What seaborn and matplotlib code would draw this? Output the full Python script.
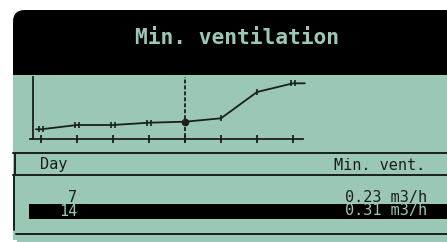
import numpy as np
import matplotlib
matplotlib.use("Agg")
import matplotlib.pyplot as plt
from matplotlib.patches import FancyBboxPatch, Rectangle
from matplotlib.path import Path
import seaborn as sns

# curve of minimum ventilation per day (m3/h)
curve_days = [-1.0, 0, 7, 14, 21, 28, 35, 42, 49, 51.3]
curve_vent = [0.097, 0.097, 0.14, 0.14, 0.163, 0.173, 0.207, 0.47, 0.557, 0.557]
tick_days = [0, 7, 14, 21, 28, 35, 42, 49]
selected_day = 28

title = "Min. ventilation"
col_headers = ["Day", "Min. vent."]
table_days = ["7", "14"]
table_vent = ["0.23 m3/h", "0.31 m3/h"]
highlight_row = 1

GREEN = "#9bc8b5"
DARK = "#1a1f1c"
MONO = ["DejaVu Sans Mono"]

sns.set_style("white")
plt.rcParams["font.family"] = MONO

fig = plt.figure(figsize=(4.47, 2.42), dpi=100)
fig.patch.set_facecolor("white")

# background panel in pixel coordinates
bg = fig.add_axes([0, 0, 1, 1])
bg.set_xlim(0, 447)
bg.set_ylim(242, 0)
bg.axis("off")

bg.add_patch(FancyBboxPatch((13, 10), 460, 260, boxstyle="round,pad=0,rounding_size=12",
                            fc=GREEN, ec="none"))
bg.add_patch(FancyBboxPatch((13, 10), 460, 90, boxstyle="round,pad=0,rounding_size=12",
                            fc="black", ec="none"))
bg.add_patch(Rectangle((13, 75), 460, 160, fc=GREEN, ec="none"))
bg.add_patch(FancyBboxPatch((13, 225), 460, 30, boxstyle="round,pad=0,rounding_size=6",
                            fc=GREEN, ec="none"))
bg.add_patch(Rectangle((0, 240), 17, 4, fc="white", ec="none"))

bg.text(237, 38, title, color=GREEN, fontsize=15.3, fontweight="bold",
        ha="center", va="center")

# table frame
lw = 1.4
bg.plot([13, 447], [152.5, 152.5], color=DARK, lw=lw)
bg.plot([15, 15], [152.5, 174.5], color=DARK, lw=lw)
bg.plot([13, 447], [174.5, 174.5], color=DARK, lw=lw)
bg.plot([14, 14], [174.5, 230], color=DARK, lw=lw)
bg.plot([16, 447], [234, 234], color=DARK, lw=lw)
bg.add_patch(Rectangle((29, 203.5), 420, 15.5, fc="black", ec="none"))

bg.text(40, 165, col_headers[0], color=DARK, fontsize=11, ha="left", va="center")
bg.text(425, 165, col_headers[1], color=DARK, fontsize=11, ha="right", va="center")
row_y = [197.5, 211]
for i in range(len(table_days)):
    c = GREEN if i == highlight_row else DARK
    bg.text(77, row_y[i], table_days[i], color=c, fontsize=11, ha="right", va="center")
    bg.text(427, row_y[i], table_vent[i], color=c, fontsize=11, ha="right", va="center")

# chart
ax = fig.add_axes([30 / 447, (242 - 139) / 242, (303 - 30) / 447, (139 - 77) / 242])
ax.set_facecolor("none")
ax.set_xlim(-2.14, 50.94)
ax.set_ylim(0, 0.62)

sns.lineplot(x=curve_days, y=curve_vent, ax=ax, color=DARK, linewidth=1.3, clip_on=False)

bars = Path([(-0.6, -1), (-0.6, 1), (0.6, -1), (0.6, 1)],
            [Path.MOVETO, Path.LINETO, Path.MOVETO, Path.LINETO])
bar = Path([(0, -1), (0, 1)], [Path.MOVETO, Path.LINETO])
vent_at = dict(zip(curve_days, curve_vent))
for d in tick_days:
    if d == selected_day:
        ax.plot([d], [vent_at[d]], marker="o", ms=4.5, color=DARK, ls="none")
    else:
        m = bar if d in (35, 42) else bars
        ax.plot([d], [vent_at[d]], marker=m, ms=4.5, mec=DARK, mew=1.2, ls="none")

ax.axvline(selected_day, ymin=-4 / 62, ymax=1, color=DARK, lw=1.3,
           ls=(0, (2.2, 1.1)), clip_on=False)

ax.set_xticks(tick_days)
ax.set_yticks([])
ax.tick_params(axis="x", direction="inout", length=5.8, width=1.3, color=DARK,
               labelbottom=False, bottom=True)
ax.spines["top"].set_visible(False)
ax.spines["right"].set_visible(False)
ax.spines["left"].set_position(("data", -1.556))
for s in ("left", "bottom"):
    ax.spines[s].set_color(DARK)
    ax.spines[s].set_linewidth(1.3)
ax.set_xlabel("")
ax.set_ylabel("")

fig.savefig("out.png", dpi=100, facecolor="white")
